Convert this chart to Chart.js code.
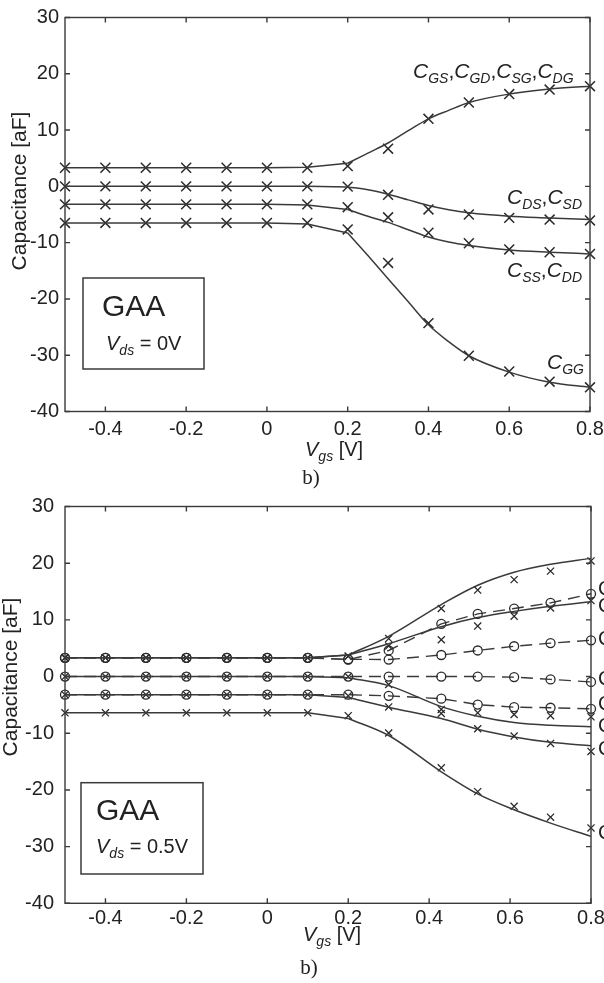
<!DOCTYPE html>
<html><head><meta charset="utf-8">
<script src="https://cdn.jsdelivr.net/npm/chart.js@4.4.1/dist/chart.umd.min.js"></script>
<style>
html,body{margin:0;padding:0;background:#fff;}
#wrap{position:relative;width:604px;height:983px;overflow:hidden;background:#fff;}
.c{position:absolute;left:0;width:604px;}
</style></head><body>
<div id="wrap">
<div class="c" style="top:0;height:490px"><canvas id="c1"></canvas></div>
<div class="c" style="top:490px;height:493px"><canvas id="c2"></canvas></div>
</div>
<script>
// ---------- axis ticks ----------
const vgsTicks = [-0.4, -0.2, 0, 0.2, 0.4, 0.6, 0.8];
const capTicks = [-40, -30, -20, -10, 0, 10, 20, 30];

// ---------- panel 1 : Vds = 0 V ----------
const vgsA      = [-0.5,-0.4,-0.3,-0.2,-0.1,0,0.1,0.2,0.3,0.4,0.5,0.6,0.7,0.8];
const cgsA      = [3.3,3.3,3.3,3.3,3.3,3.3,3.3,3.6,6.7,12.0,14.9,16.4,17.2,17.8];
const cdsA      = [0,0,0,0,0,0,0,-0.05,-1.5,-4.1,-5.0,-5.6,-5.9,-6.05];
const cssA      = [-3.2,-3.2,-3.2,-3.2,-3.2,-3.2,-3.2,-3.7,-5.5,-8.25,-10.1,-11.2,-11.7,-12.0];
const cggA      = [-6.5,-6.5,-6.5,-6.5,-6.5,-6.5,-6.5,-7.65,-13.6,-24.3,-30.1,-32.9,-34.7,-35.7];
const vgsAModel = [-0.5,-0.4,-0.3,-0.2,-0.1,0,0.1,0.2,0.25,0.3,0.35,0.4,0.45,0.5,0.6,0.7,0.8];
const cgsAModel = [3.3,3.3,3.3,3.3,3.3,3.3,3.4,4.1,5.9,7.7,9.9,12.0,13.5,14.9,16.4,17.3,17.8];
const cdsAModel = [0,0,0,0,0,0,0,-0.1,-0.6,-1.4,-2.4,-3.4,-4.15,-4.7,-5.3,-5.6,-5.9];
const cssAModel = [-3.2,-3.2,-3.2,-3.2,-3.2,-3.2,-3.3,-4.1,-5.3,-6.4,-7.7,-9.0,-9.9,-10.5,-11.3,-11.7,-12.0];
const cggAModel = [-6.5,-6.5,-6.5,-6.5,-6.5,-6.5,-6.7,-8.3,-12.3,-16.4,-20.5,-24.6,-27.6,-30.1,-33.0,-34.8,-35.7];
const labelsA   = [[['C','GS'],['C','GD'],['C','SG'],['C','DG']], [['C','DS'],['C','SD']], [['C','SS'],['C','DD']], [['C','GG']]];

// ---------- panel 2 : Vds = 0.5 V ----------
const vgsB     = [-0.5,-0.4,-0.3,-0.2,-0.1,0,0.1,0.2,0.3,0.43,0.52,0.61,0.70,0.8];
const c1BModel = [3.3,3.3,3.3,3.3,3.3,3.3,3.3,3.8,7.1,12.7,16.1,18.4,19.8,20.85];
const c2BModel = [3.3,3.3,3.3,3.3,3.3,3.3,3.3,3.8,5.8,8.8,10.4,11.5,12.4,13.2];
const c3BModel = [0,0,0,0,0,0,0,-0.2,-1.6,-5.3,-7.0,-8.1,-8.6,-8.85];
const c4BModel = [-3.2,-3.2,-3.2,-3.2,-3.2,-3.2,-3.2,-3.7,-5.4,-7.4,-9.3,-10.65,-11.6,-12.2];
const c5BModel = [-6.4,-6.4,-6.4,-6.4,-6.4,-6.4,-6.4,-7.4,-10.4,-16.8,-20.7,-23.5,-25.85,-28.2];
const c1B = [3.3,3.3,3.3,3.3,3.3,3.3,3.3,3.6,6.7,12.0,15.25,17.1,18.6,20.4];
const c2B = [3.3,3.3,3.3,3.3,3.3,3.3,3.3,3.6,5.4,6.5,8.9,10.65,12.1,13.4];
const c3B = [0,0,0,0,0,0,0,0,-1.4,-5.8,-6.4,-6.7,-6.9,-7.1];
const c4B = [-3.2,-3.2,-3.2,-3.2,-3.2,-3.2,-3.2,-3.4,-5.35,-6.5,-9.2,-10.5,-11.8,-13.2];
const c5B = [-6.4,-6.4,-6.4,-6.4,-6.4,-6.4,-6.4,-6.9,-9.95,-16.1,-20.3,-22.9,-24.8,-26.7];
const d1B = [3.3,3.3,3.3,3.3,3.3,3.3,3.3,3.0,4.6,9.3,11.05,12.0,13.0,14.6];
const d2B = [3.3,3.3,3.3,3.3,3.3,3.3,3.3,3.05,3.0,3.8,4.6,5.35,5.9,6.4];
const d3B = [0,0,0,0,0,0,0,0,0,0,0,-0.1,-0.5,-0.95];
const d4B = [-3.2,-3.2,-3.2,-3.2,-3.2,-3.2,-3.2,-3.2,-3.4,-3.9,-4.95,-5.4,-5.5,-5.7];
const edgeLabelB = [15.4, 12.4, 6.5, -0.5, -4.9, -8.8, -12.9, -27.6];

// ---------- helpers ----------
const FONT = '"Liberation Sans", Arial, Helvetica, sans-serif';
const INK = '#222';
const LINE = '#3a3a3a';
const KNEE = 0.2;   // model curves leave the plateau here
const pts = (xs, ys) => xs.map((x, i) => ({x, y: ys[i]}));

function rich(ctx, x, y, segs) {
  let cx = x;
  for (const s of segs) {
    ctx.font = (s.i ? 'italic ' : '') + s.z + 'px ' + FONT;
    ctx.fillText(s.t, cx, y + (s.dy || 0));
    cx += ctx.measureText(s.t).width;
  }
}
function capSegs(pairs) {
  const out = [];
  pairs.forEach((p, k) => {
    out.push({t: p[0], i: true, z: 21});
    out.push({t: p[1], i: true, z: 14, dy: 5});
    if (k < pairs.length - 1) out.push({t: ',', z: 21});
  });
  return out;
}

const deco = {
  id: 'deco',
  afterDatasetsDraw(chart, args, o) {
    const {ctx, chartArea: a, scales: {x, y}} = chart;
    ctx.save();
    ctx.strokeStyle = LINE; ctx.lineWidth = 1.4;
    ctx.strokeRect(a.left, a.top, a.right - a.left, a.bottom - a.top);
    ctx.beginPath();
    for (const v of vgsTicks) {
      const px = x.getPixelForValue(v);
      ctx.moveTo(px, a.bottom); ctx.lineTo(px, a.bottom - 5);
      ctx.moveTo(px, a.top); ctx.lineTo(px, a.top + 5);
    }
    for (const v of capTicks) {
      const py = y.getPixelForValue(v);
      ctx.moveTo(a.left, py); ctx.lineTo(a.left + 5, py);
      ctx.moveTo(a.right, py); ctx.lineTo(a.right - 5, py);
    }
    ctx.stroke();

    ctx.fillStyle = INK;
    ctx.textBaseline = 'alphabetic';
    ctx.textAlign = 'left';
    (o.curveLabels || []).forEach(l => rich(ctx, l.x, l.y, capSegs(l.pairs)));
    if (o.edge) {
      ctx.font = '20px ' + FONT;
      ctx.textBaseline = 'middle';
      o.edge.vals.forEach(v => ctx.fillText('C', o.edge.x, y.getPixelForValue(v)));
      ctx.textBaseline = 'alphabetic';
    }
    const b = o.box;
    ctx.lineWidth = 1.5;
    ctx.strokeRect(b.x, b.y, b.w, b.h);
    ctx.font = '30px ' + FONT;
    ctx.fillText('GAA', b.gx, b.gy);
    rich(ctx, b.vx, b.vy, [{t:'V', i:true, z:20}, {t:'ds', i:true, z:14, dy:5}, {t:' = ' + o.vds, z:20}]);
    rich(ctx, o.xt.x, o.xt.y, [{t:'V', i:true, z:20}, {t:'gs', i:true, z:14, dy:5}, {t:' [V]', z:20}]);
    ctx.save();
    ctx.translate(o.yt.x, o.yt.y);
    ctx.rotate(-Math.PI / 2);
    ctx.font = '21px ' + FONT;
    ctx.textAlign = 'center';
    ctx.fillText('Capacitance [aF]', 0, 0);
    ctx.restore();
    ctx.font = '21px "Liberation Serif", "Times New Roman", serif';
    ctx.textAlign = 'center';
    ctx.fillText('b)', o.cap.x, o.cap.y);
    ctx.restore();
  }
};

function makeScales(xPad, yPad, xH, yW) {
  return {
    x: {
      type: 'linear', min: -0.5, max: 0.8,
      grid: {display: false, drawTicks: false}, border: {display: false},
      afterBuildTicks: s => { s.ticks = vgsTicks.map(v => ({value: v})); },
      afterFit: s => { s.height = xH; s.paddingLeft = 0; s.paddingRight = 0; },
      ticks: {autoSkip: false, maxRotation: 0, padding: xPad, color: INK,
              font: {family: FONT, size: 20},
              callback: v => String(Math.round(v * 10) / 10)}
    },
    y: {
      type: 'linear', min: -40, max: 30,
      grid: {display: false, drawTicks: false}, border: {display: false},
      afterBuildTicks: s => { s.ticks = capTicks.map(v => ({value: v})); },
      afterFit: s => { s.width = yW; s.paddingTop = 0; s.paddingBottom = 0; },
      ticks: {autoSkip: false, padding: yPad, color: INK, font: {family: FONT, size: 20},
              callback: v => String(v)}
    }
  };
}

// model curve: straight plateau up to the knee, smooth (monotone) beyond it
function modelDs(xs, ys) {
  const p = pts(xs, ys);
  const base = {showLine: true, borderColor: LINE, borderWidth: 1.5, pointRadius: 0, fill: false, clip: false};
  return [
    Object.assign({}, base, {data: p.filter(q => q.x <= KNEE + 1e-9), tension: 0}),
    Object.assign({}, base, {data: p.filter(q => q.x >= KNEE - 1e-9), cubicInterpolationMode: 'monotone'})
  ];
}
const crossDs = (xs, ys, r, w) => ({data: pts(xs, ys), showLine: false, pointStyle: 'crossRot',
  pointRadius: r, pointBorderWidth: w, pointBorderColor: '#2a2a2a', pointBackgroundColor: 'rgba(0,0,0,0)', clip: false});
const circDs = (xs, ys) => ({data: pts(xs, ys), showLine: true, borderColor: LINE, borderWidth: 1.4,
  borderDash: [12, 7], tension: 0, pointStyle: 'circle', pointRadius: 4.5, pointBorderWidth: 1.3,
  pointBorderColor: '#2a2a2a', pointBackgroundColor: 'rgba(0,0,0,0)', fill: false, clip: false});

Chart.defaults.font.family = FONT;

new Chart(document.getElementById('c1'), {
  type: 'scatter',
  data: {datasets: [
    ...modelDs(vgsAModel, cgsAModel), ...modelDs(vgsAModel, cdsAModel),
    ...modelDs(vgsAModel, cssAModel), ...modelDs(vgsAModel, cggAModel),
    crossDs(vgsA, cgsA, 7, 1.5), crossDs(vgsA, cdsA, 7, 1.5),
    crossDs(vgsA, cssA, 7, 1.5), crossDs(vgsA, cggA, 7, 1.5)
  ]},
  options: {
    responsive: true, maintainAspectRatio: false, animation: false, devicePixelRatio: 1,
    layout: {padding: {left: 0, right: 14, top: 17.5, bottom: 28.5}},
    scales: makeScales(6, 6, 50, 65),
    plugins: {legend: {display: false}, tooltip: {enabled: false},
      deco: {
        curveLabels: [
          {x: 413, y: 78, pairs: labelsA[0]},
          {x: 507, y: 204, pairs: labelsA[1]},
          {x: 507, y: 277, pairs: labelsA[2]},
          {x: 547, y: 369, pairs: labelsA[3]}
        ],
        box: {x: 83, y: 278, w: 121, h: 91, gx: 102, gy: 316, vx: 106, vy: 350},
        vds: '0V',
        xt: {x: 305, y: 456},
        yt: {x: 26, y: 191},
        cap: {x: 311, y: 484}
      }}
  },
  plugins: [deco]
});

new Chart(document.getElementById('c2'), {
  type: 'scatter',
  data: {datasets: [
    ...modelDs(vgsB, c1BModel), ...modelDs(vgsB, c2BModel), ...modelDs(vgsB, c3BModel),
    ...modelDs(vgsB, c4BModel), ...modelDs(vgsB, c5BModel),
    circDs(vgsB, d1B), circDs(vgsB, d2B), circDs(vgsB, d3B), circDs(vgsB, d4B),
    crossDs(vgsB, c1B, 5, 1.3), crossDs(vgsB, c2B, 5, 1.3), crossDs(vgsB, c3B, 5, 1.3),
    crossDs(vgsB, c4B, 5, 1.3), crossDs(vgsB, c5B, 5, 1.3)
  ]},
  options: {
    responsive: true, maintainAspectRatio: false, animation: false, devicePixelRatio: 1,
    layout: {padding: {left: 0, right: 13, top: 16.5, bottom: 29.7}},
    scales: makeScales(3, 11, 50, 65),
    plugins: {legend: {display: false}, tooltip: {enabled: false},
      deco: {
        edge: {x: 598, vals: edgeLabelB},
        box: {x: 81, y: 292.7, w: 122, h: 91.3, gx: 96, gy: 330, vx: 96, vy: 363},
        vds: '0.5V',
        xt: {x: 303, y: 451},
        yt: {x: 17, y: 187},
        cap: {x: 309, y: 484}
      }}
  },
  plugins: [deco]
});
</script>
</body></html>
